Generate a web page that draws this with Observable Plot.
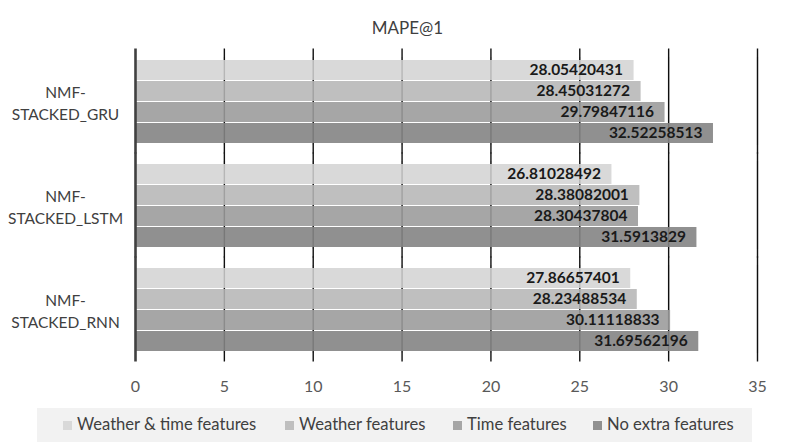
<!DOCTYPE html>
<html><head><meta charset="utf-8">
<script src="https://cdn.jsdelivr.net/npm/d3@7"></script>
<script src="https://cdn.jsdelivr.net/npm/@observablehq/plot@0.6"></script>
<style>
body{margin:0;background:#fff;font-family:Lato,"Open Sans",sans-serif;}
#wrap{position:relative;width:789px;height:448px;overflow:hidden;}
#title{position:absolute;left:0;top:17px;width:789px;padding-left:26px;box-sizing:border-box;text-align:center;font-size:17px;color:#404040;}
#chart{position:absolute;left:0;top:40px;}
#legend{position:absolute;left:37px;top:408px;width:715px;height:34px;background:#f2f2f2;}
.sw{position:absolute;width:9px;height:9px;top:421px;}
.lt{position:absolute;top:414px;font-size:16.6px;color:#404040;white-space:nowrap;}
</style></head>
<body><div id="wrap"><div id="title">MAPE@1</div><div id="chart"></div><div id="legend"></div></div>
<script>
const models = ["NMF-STACKED_GRU", "NMF-STACKED_LSTM", "NMF-STACKED_RNN"];
const series = ["Weather & time features", "Weather features", "Time features", "No extra features"];
const gruValues = [28.05420431, 28.45031272, 29.79847116, 32.52258513];
const lstmValues = [26.81028492, 28.38082001, 28.30437804, 31.5913829];
const rnnValues = [27.86657401, 28.23488534, 30.11118833, 31.69562196];
const xTicks = [0, 5, 10, 15, 20, 25, 30, 35];
const colors = ["#d9d9d9", "#bfbfbf", "#a6a6a6", "#909090"];
const legendLeft = [63, 285, 453, 593];

const byModel = [gruValues, lstmValues, rnnValues];
const data = [];
models.forEach((m, i) => series.forEach((s, j) => data.push({model: m, series: s, value: byModel[i][j]})));
const lastModel = models[models.length - 1];

const chart = Plot.plot({
  width: 789, height: 360,
  marginTop: 8, marginBottom: 38, marginLeft: 135, marginRight: 32,
  style: {fontFamily: "Lato, 'Open Sans', sans-serif", background: "transparent"},
  x: {domain: [0, 35], axis: null},
  y: {domain: series, axis: null, padding: 0.06},
  fy: {domain: models, axis: null, paddingInner: 0.152, paddingOuter: 0.075},
  color: {domain: series, range: colors},
  marks: [
    Plot.ruleX(xTicks.slice(1), {stroke: "#111", strokeWidth: 1.4, insetTop: -8.5, insetBottom: -8.5}),
    Plot.barX(data, {x: "value", y: "series", fy: "model", fill: "series"}),
    Plot.ruleX(xTicks.slice(1), {stroke: "#000", strokeOpacity: 0.16, strokeWidth: 1.4}),
    Plot.ruleX([0], {stroke: "#404040", strokeWidth: 2.6, insetTop: -8.5, insetBottom: -8.5}),
    Plot.text(data, {x: "value", y: "series", fy: "model", text: d => String(d.value), textAnchor: "end", dx: -11, fontWeight: "bold", fontSize: 15.5, fill: "#1a1a1a"}),
    Plot.text(models, {fy: d => d, text: d => d.replace("-", "-\n"), frameAnchor: "left", dx: -70, textAnchor: "middle", fontSize: 15.5, lineHeight: 1.42, fill: "#404040"}),
    Plot.text(xTicks, {fy: () => lastModel, x: d => d, text: d => String(d), frameAnchor: "bottom", dy: 38, fontSize: 16, fill: "#595959"})
  ]
});
document.getElementById("chart").appendChild(chart);

const wrap = document.getElementById("wrap");
series.forEach((s, i) => {
  const sw = document.createElement("div");
  sw.className = "sw"; sw.style.left = legendLeft[i] + "px"; sw.style.background = colors[i];
  const lt = document.createElement("div");
  lt.className = "lt"; lt.style.left = (legendLeft[i] + 14) + "px"; lt.textContent = s;
  wrap.appendChild(sw); wrap.appendChild(lt);
});
</script></body></html>
